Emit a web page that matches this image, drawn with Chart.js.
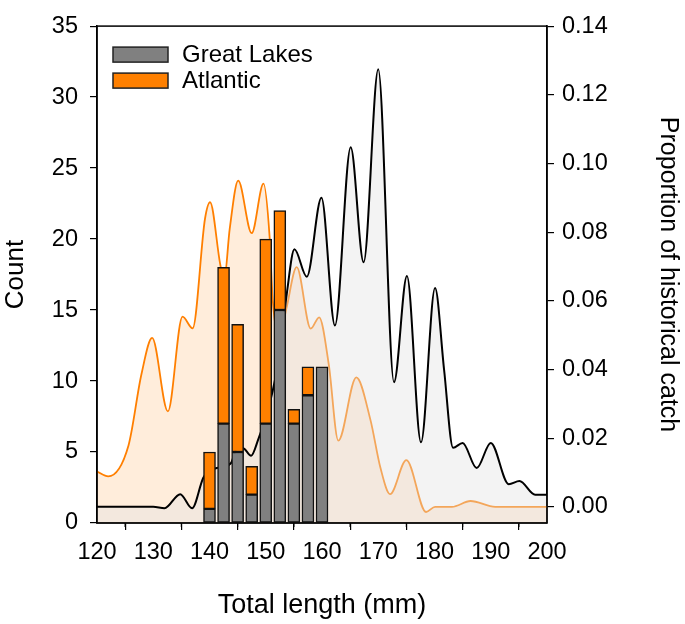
<!DOCTYPE html>
<html>
<head>
<meta charset="utf-8">
<script src="https://cdn.jsdelivr.net/npm/chart.js@4.4.1/dist/chart.umd.min.js"></script>
<style>
  body { margin: 0; background: #fff; }
  #wrap { width: 685px; height: 624px; }
</style>
</head>
<body>
<div id="wrap"><canvas id="lengthChart"></canvas></div>
<script>
// bar histogram (counts per 2.5 mm bin)
const binLengths = [140, 142.5, 145, 147.5, 150, 152.5, 155, 157.5, 160];
const greatLakesCounts = [1, 7, 5, 2, 7, 15, 7, 9, 11];
const atlanticCounts = [4, 11, 9, 2, 13, 7, 1, 2, 0];

// historical catch proportion curves
const glCurveX = [120, 125, 130, 132, 134.8, 136.9, 138.9, 140, 141.3, 142.5, 143.8, 145, 146.2, 147.4, 148.7, 150, 151.25, 152.5, 153.75,
  155.1, 157.3, 159.9, 162.3, 165.1, 167.4, 170, 172.8, 175.1, 177.6, 180.1, 181.7, 183.3, 185, 187.5, 190, 193.2, 195.1, 197.9, 200];
const glCurveP = [0, 0, 0, -0.0004, 0.0037, -0.0004, 0.0085, 0.0105, 0.0113, 0.0118, 0.0127, 0.0175, 0.0169, 0.0149, 0.0198, 0.026, 0.0339, 0.045, 0.0622,
  0.075, 0.067, 0.090, 0.0528, 0.1047, 0.0712, 0.1274, 0.0363, 0.0672, 0.0188, 0.0637, 0.040, 0.0172, 0.0186, 0.0113, 0.0186, 0.0066, 0.0075, 0.0035, 0.0035];

const atCurveX = [120, 122, 125.6, 127.9, 129.8, 132.6, 135.2, 137, 139.2, 140.1, 141.9, 142.6, 143.6, 145.1, 147.5, 149.6, 150.7, 151.25, 152.5, 153.7,
  155.5, 158, 159.5, 161.2, 162.9, 166.1, 168.6, 170.4, 172.1, 175, 178.5, 180.1, 183.1, 186.4, 190.8, 200];
const atCurveP = [0.0103, 0.0089, 0.0179, 0.0386, 0.0492, 0.0278, 0.0554, 0.052, 0.0839, 0.0887, 0.0707, 0.066, 0.081, 0.095, 0.0797, 0.0941, 0.0783, 0.060, 0.050, 0.058,
  0.0698, 0.0519, 0.0552, 0.0415, 0.0193, 0.0377, 0.0254, 0.0113, 0.0037, 0.0136, -0.0015, 0, 0, 0.0017, 0, 0];

// axis ticks
const lengthTicks = [120, 130, 140, 150, 160, 170, 180, 190, 200];
const minorLengthTicks = [125, 135, 145, 155, 165, 175, 185, 195];
const countTicks = [0, 5, 10, 15, 20, 25, 30, 35];
const propTicks = [0, 0.02, 0.04, 0.06, 0.08, 0.10, 0.12, 0.14];

const legendItems = [
  { label: 'Great Lakes', color: '#808080' },
  { label: 'Atlantic', color: '#FF8000' }
];

const toPoints = (xs, ys) => xs.map((x, i) => ({ x: x, y: ys[i] }));
const FAMILY = 'Liberation Sans, Arial, sans-serif';
const tickFont = { family: FAMILY, size: 23.5 };

// frame, minor ticks and the legend box
const framePlugin = {
  id: 'frame',
  afterDraw(chart) {
    const c = chart.ctx, a = chart.chartArea;
    c.save();
    c.strokeStyle = '#000';
    c.lineWidth = 1.5;
    c.strokeRect(a.left, a.top, a.right - a.left, a.bottom - a.top);
    const xs = chart.scales.x;
    c.lineWidth = 1.2;
    minorLengthTicks.forEach(v => {
      const px = xs.getPixelForValue(v);
      c.beginPath();
      c.moveTo(px, a.bottom);
      c.lineTo(px, a.bottom + 4);
      c.stroke();
    });
    // legend
    c.font = '24px "Liberation Sans", Arial, sans-serif';
    c.textBaseline = 'middle';
    legendItems.forEach((it, i) => {
      const bx = a.left + 16, by = a.top + 21 + i * 26;
      c.fillStyle = it.color;
      c.fillRect(bx, by, 55, 15);
      c.strokeStyle = '#222';
      c.lineWidth = 1.5;
      c.strokeRect(bx, by, 55, 15);
      c.fillStyle = '#000';
      c.fillText(it.label, bx + 69, by + 8);
    });
    c.restore();
  }
};

const ctx = document.getElementById('lengthChart').getContext('2d');
new Chart(ctx, {
  type: 'bar',
  data: {
    datasets: [
      {
        label: 'Great Lakes',
        data: toPoints(binLengths, greatLakesCounts),
        backgroundColor: '#808080',
        borderColor: '#111',
        borderWidth: 1.5,
        borderSkipped: false,
        barThickness: 12,
        yAxisID: 'y',
        order: 0
      },
      {
        label: 'Atlantic',
        data: toPoints(binLengths, atlanticCounts),
        backgroundColor: '#FF8000',
        borderColor: '#111',
        borderWidth: 1.5,
        borderSkipped: false,
        barThickness: 12,
        yAxisID: 'y',
        order: 0
      },
      {
        type: 'line',
        label: 'Great Lakes historical',
        data: toPoints(glCurveX, glCurveP),
        borderColor: '#000',
        borderWidth: 2,
        backgroundColor: 'rgba(224,224,224,0.4)',
        fill: 'start',
        pointRadius: 0,
        cubicInterpolationMode: 'monotone',
        yAxisID: 'y1',
        order: 1
      },
      {
        type: 'line',
        label: 'Atlantic historical',
        data: toPoints(atCurveX, atCurveP),
        borderColor: '#FF7F00',
        borderWidth: 1.8,
        backgroundColor: 'rgba(255,128,0,0.14)',
        fill: 'start',
        pointRadius: 0,
        cubicInterpolationMode: 'monotone',
        yAxisID: 'y1',
        order: 2
      }
    ]
  },
  options: {
    responsive: true,
    maintainAspectRatio: false,
    animation: false,
    layout: { padding: { top: 12 } },
    plugins: { legend: { display: false }, tooltip: { enabled: false } },
    scales: {
      x: {
        type: 'linear',
        position: 'bottom',
        min: 120, max: 200,
        offset: false,
        stacked: true,
        afterBuildTicks: s => { s.ticks = lengthTicks.map(v => ({ value: v })); },
        afterFit: s => { s.height = 101; },
        grid: { drawOnChartArea: false, drawTicks: true, tickLength: 7, color: '#000', lineWidth: 1.2 },
        border: { display: true, color: '#000', width: 1.5 },
        ticks: { color: '#000', font: tickFont, padding: 8, maxRotation: 0 },
        title: { display: true, text: 'Total length (mm)', color: '#000', font: { family: FAMILY, size: 27 }, padding: { top: 3, bottom: 2 } }
      },
      y: {
        type: 'linear',
        position: 'left',
        min: 0, max: 35,
        stacked: true,
        afterBuildTicks: s => { s.ticks = countTicks.map(v => ({ value: v })); },
        afterFit: s => { s.width = 97; },
        grid: { drawOnChartArea: false, drawTicks: true, tickLength: 7, color: '#000', lineWidth: 1.2 },
        border: { display: true, color: '#000', width: 1.5 },
        ticks: { color: '#000', font: tickFont, padding: 12 },
        title: { display: true, text: 'Count', color: '#000', font: { family: FAMILY, size: 26 }, padding: { top: 0, bottom: 0 } }
      },
      y1: {
        type: 'linear',
        position: 'right',
        min: -0.0047, max: 0.14,
        afterBuildTicks: s => { s.ticks = propTicks.map(v => ({ value: v })); },
        afterFit: s => { s.width = 138; },
        grid: { drawOnChartArea: false, drawTicks: true, tickLength: 7, color: '#000', lineWidth: 1.2 },
        border: { display: true, color: '#000', width: 1.5 },
        ticks: { color: '#000', font: tickFont, padding: 8, callback: v => v.toFixed(2) },
        title: { display: true, text: 'Proportion of historical catch', color: '#000', font: { family: FAMILY, size: 25 }, padding: { top: 2, bottom: 0 } }
      }
    }
  },
  plugins: [framePlugin]
});
</script>
</body>
</html>
